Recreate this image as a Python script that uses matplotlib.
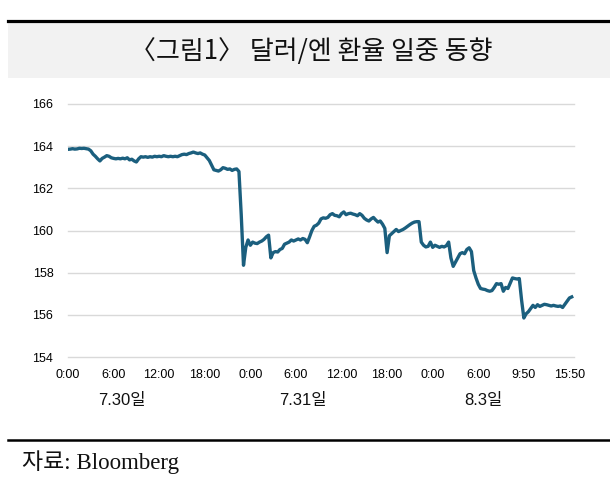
import numpy as np
import matplotlib
matplotlib.use("Agg")
import matplotlib.pyplot as plt
from matplotlib.lines import Line2D
from matplotlib.patches import Rectangle
import matplotlib.transforms as mtransforms

# ---- data ----
tick_labels = ["0:00", "6:00", "12:00", "18:00", "0:00", "6:00", "12:00", "18:00",
               "0:00", "6:00", "9:50", "15:50"]
day_labels = ["7.30일", "7.31일", "8.3일"]
day_label_pos = [1.18, 5.15, 9.12]
y_ticks = [154, 156, 158, 160, 162, 164, 166]
step = 0.05  # observations per tick interval = 20
usdjpy = [
    163.85, 163.86, 163.88, 163.86, 163.87, 163.90, 163.89, 163.90, 163.88, 163.86,
    163.78, 163.62, 163.52, 163.40, 163.30, 163.42, 163.48, 163.55, 163.52, 163.45,
    163.42, 163.40, 163.42, 163.40, 163.43, 163.40, 163.45, 163.35, 163.38, 163.30,
    163.25, 163.40, 163.50, 163.48, 163.50, 163.47, 163.50, 163.48, 163.52, 163.50,
    163.52, 163.50, 163.55, 163.52, 163.50, 163.52, 163.50, 163.52, 163.50, 163.55,
    163.60, 163.62, 163.60, 163.65, 163.68, 163.72, 163.68, 163.65, 163.68, 163.62,
    163.58, 163.45, 163.32, 163.10, 162.88, 162.85, 162.82, 162.88, 162.98, 162.95,
    162.90, 162.92, 162.85, 162.90, 162.92, 162.80, 160.75, 158.35, 159.20, 159.55,
    159.30, 159.45, 159.40, 159.38, 159.45, 159.50, 159.58, 159.70, 159.78, 158.70,
    158.95, 159.00, 158.98, 159.10, 159.15, 159.35, 159.40, 159.45, 159.55, 159.50,
    159.55, 159.60, 159.55, 159.62, 159.58, 159.42, 159.70, 160.00, 160.20, 160.25,
    160.35, 160.55, 160.60, 160.58, 160.62, 160.75, 160.80, 160.72, 160.70, 160.65,
    160.80, 160.88, 160.75, 160.80, 160.82, 160.78, 160.75, 160.70, 160.80, 160.72,
    160.58, 160.50, 160.45, 160.55, 160.62, 160.50, 160.40, 160.45, 160.30, 160.10,
    158.95, 159.75, 159.85, 159.95, 160.05, 159.95, 160.00, 160.05, 160.12, 160.20,
    160.28, 160.35, 160.40, 160.42, 160.42, 159.45, 159.30, 159.22, 159.25, 159.45,
    159.20, 159.30, 159.25, 159.20, 159.25, 159.22, 159.28, 159.45, 158.70, 158.30,
    158.50, 158.70, 158.90, 158.95, 158.90, 159.10, 159.18, 159.00, 158.10, 157.75,
    157.45, 157.25, 157.22, 157.20, 157.15, 157.12, 157.15, 157.30, 157.48, 157.45,
    157.48, 157.12, 157.30, 157.25, 157.50, 157.75, 157.72, 157.70, 157.72, 156.70,
    155.85, 156.05, 156.15, 156.30, 156.45, 156.35, 156.48, 156.40, 156.45, 156.50,
    156.48, 156.45, 156.42, 156.45, 156.42, 156.40, 156.42, 156.35, 156.50, 156.65,
    156.80, 156.85,
]
title = "〈그림1〉 달러/엔 환율 일중 동향"
source = "자료: Bloomberg"

# ---- figure ----
fig = plt.figure(figsize=(6.1, 4.88), dpi=100)
W, H = 610, 488

# header band and rules
fig.patches.append(Rectangle((8 / W, 1 - 78 / H), 1 - 8 / W, (78 - 22) / H,
                             transform=fig.transFigure, facecolor="#f2f2f2",
                             edgecolor="none", zorder=0))
fig.lines.append(Line2D([8 / W, 1], [1 - 21 / H, 1 - 21 / H], transform=fig.transFigure,
                        color="black", lw=2.3))
fig.lines.append(Line2D([8 / W, 1], [1 - 440 / H, 1 - 440 / H], transform=fig.transFigure,
                        color="black", lw=1.8))
fig.text(311 / W, 1 - 51 / H, title, ha="center", va="center", fontsize=18.7,
         family=["Noto Sans CJK KR", "DejaVu Sans"], color="#111111")
fig.text(22 / W, 1 - 462 / H, source, ha="left", va="center", fontsize=16.5,
         family=["Liberation Serif", "Noto Sans CJK KR"], color="#111111")

# axes
left, right = 68 / W, 574 / W
top, bottom = 1 - 104 / H, 1 - 357 / H
ax = fig.add_axes([left, bottom, right - left, top - bottom])
x = np.arange(len(usdjpy)) * step
ax.plot(x, usdjpy, color="#1b5f7e", lw=2.4, solid_joinstyle="round", zorder=3)
ax.set_xlim(0, 11.1)
ax.set_ylim(154, 166)
ax.set_yticks(y_ticks)
ax.set_yticklabels([str(v) for v in y_ticks], family="Liberation Sans", fontsize=9)
ax.set_xticks(range(len(tick_labels)))
ax.set_xticklabels(tick_labels, family="Liberation Sans", fontsize=9)
ax.tick_params(axis="both", length=0)
ax.tick_params(axis="y", pad=10.5)
ax.tick_params(axis="x", pad=8.5)
for s in ax.spines.values():
    s.set_visible(False)
ax.yaxis.grid(True, color="#d9d9d9", lw=1.0)
ax.xaxis.grid(False)
for gl in ax.get_ygridlines():
    gl.set_clip_on(False)
ax.set_axisbelow(True)

trans = mtransforms.blended_transform_factory(ax.transData, fig.transFigure)
for lbl, p in zip(day_labels, day_label_pos):
    ax.text(p, 1 - 400 / H, lbl, transform=trans, ha="center", va="center",
            fontsize=12, family=["Liberation Sans", "Noto Sans CJK KR"], color="#111111")

fig.savefig("out.png", dpi=100)
